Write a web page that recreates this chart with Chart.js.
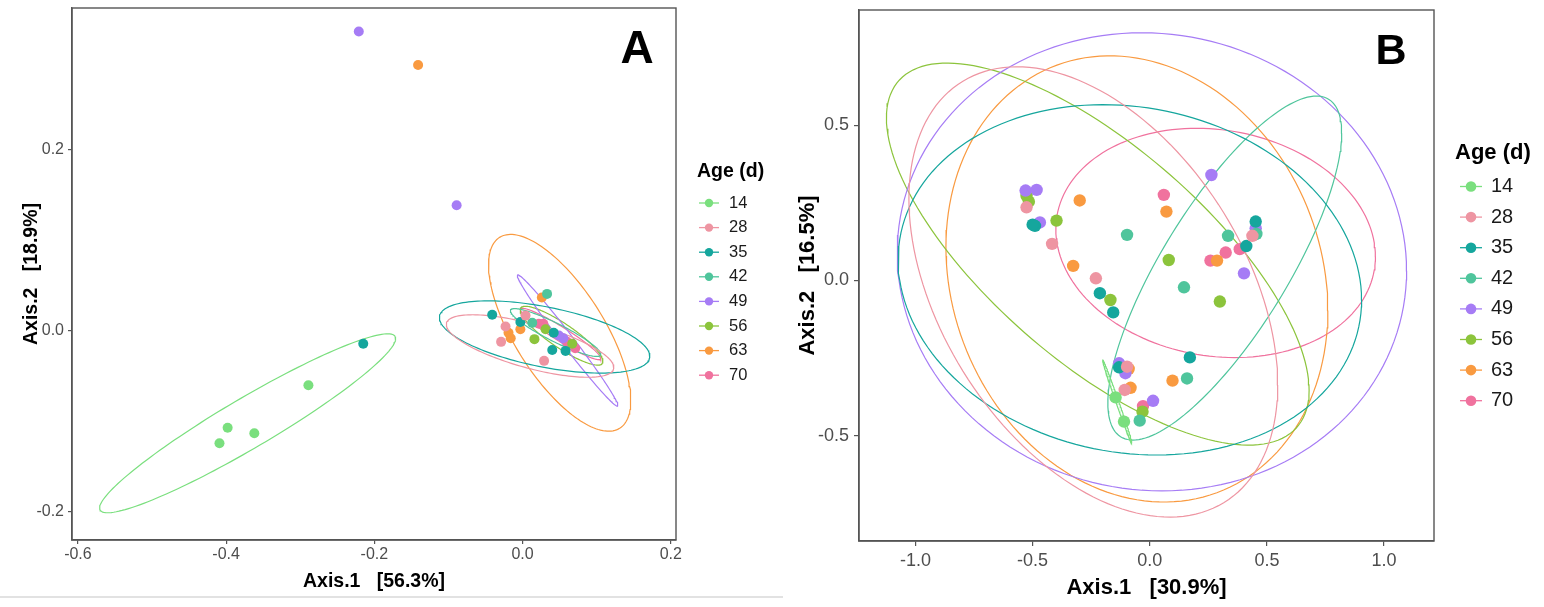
<!DOCTYPE html>
<html><head><meta charset="utf-8">
<script src="https://cdn.jsdelivr.net/npm/chart.js@4.4.0/dist/chart.umd.min.js"></script>
<style>
html,body{margin:0;padding:0;background:#fff;width:1544px;height:607px;overflow:hidden}
#wa{position:absolute;left:0;top:0;width:790px;height:607px}
#wb{position:absolute;left:780px;top:0;width:764px;height:607px}
#band{position:absolute;left:0;top:596px;width:783px;height:2px;background:#e2e2e2}
</style></head><body>
<div id="band"></div>
<div id="wa"><canvas id="ca" width="790" height="607"></canvas></div>
<div id="wb"><canvas id="cb" width="764" height="607"></canvas></div>
<script>
// ---- categories & colours ----
const ages = ['14','28','35','42','49','56','63','70'];
const ageColors = ['#7ADF7E','#EE95A2','#15A69D','#4FC59C','#A67CF5','#8CC43C','#F99A40','#F0729E'];

// ---- tick labels ----
const xTicksA = [-0.6,-0.4,-0.2,0.0,0.2];
const yTicksA = [-0.2,0.0,0.2];
const xTicksB = [-1.0,-0.5,0.0,0.5,1.0];
const yTicksB = [-0.5,0.0,0.5];

// ---- Panel A: PCoA points per age (Axis.1, Axis.2) ----
const ptsA14 = [[-0.289,-0.060],[-0.398,-0.107],[-0.362,-0.113],[-0.409,-0.124]];
const ptsA28 = [[-0.023,0.005],[-0.029,-0.012],[0.029,-0.033],[0.004,0.017]];
const ptsA35 = [[-0.215,-0.014],[-0.041,0.018],[-0.003,0.010],[0.042,-0.002],[0.040,-0.021],[0.058,-0.022]];
const ptsA42 = [[0.033,0.041],[0.013,0.009]];
const ptsA49 = [[-0.221,0.331],[-0.089,0.139],[0.055,-0.008],[0.049,-0.005]];
const ptsA56 = [[0.016,-0.009],[0.031,0.002],[0.067,-0.014]];
const ptsA63 = [[-0.141,0.294],[0.026,0.037],[-0.003,0.002],[-0.019,-0.002],[-0.016,-0.008]];
const ptsA70 = [[0.022,0.008],[0.028,0.008],[0.071,-0.019],[0.060,-0.012]];

// ---- Panel A: ellipse read-offs [cx, cy, ux, uy, vx, vy] ----
const ellA14 = [-0.371,-0.102, 0.199,0.096, 0.0171,-0.0238];
const ellA28 = [0.0101,-0.0166, 0.1127,-0.0254, -0.0079,-0.0234];
const ellA35 = [0.0297,-0.0066, 0.1417,-0.0232, -0.0079,-0.0325];
const ellA42 = [0.0445,-0.0017, 0.0607,-0.0249, -0.0054,-0.0089];
const ellA49 = [0.0607,-0.0105, 0.0675,-0.0724, 0.0064,0.0040];
const ellA56 = [0.0526,-0.0052, 0.0551,-0.0306, -0.0091,-0.0110];
const ellA63 = [0.050,-0.002, 0.081,-0.1055, 0.0514,0.0264];
const ellA70 = [0.0513,-0.0033, 0.054,-0.0276, -0.0047,-0.0066];

// ---- Panel B: PCoA points per age ----
const ptsB14 = [[-0.146,-0.377],[-0.110,-0.455]];
const ptsB28 = [[-0.526,0.236],[-0.417,0.118],[-0.230,0.007],[0.438,0.144],[-0.097,-0.278],[-0.107,-0.353]];
const ptsB35 = [[-0.490,0.176],[-0.500,0.180],[-0.213,-0.041],[-0.156,-0.103],[0.452,0.190],[0.412,0.111],[0.171,-0.248],[-0.131,-0.280]];
const ptsB42 = [[-0.097,0.147],[0.334,0.144],[0.455,0.150],[0.146,-0.022],[0.159,-0.316],[-0.043,-0.452]];
const ptsB49 = [[0.263,0.340],[-0.530,0.290],[-0.483,0.292],[-0.469,0.187],[0.452,0.168],[0.402,0.023],[-0.131,-0.267],[-0.104,-0.299],[0.014,-0.388]];
const ptsB56 = [[-0.526,0.273],[-0.516,0.254],[-0.398,0.193],[-0.168,-0.063],[0.081,0.066],[0.299,-0.068],[-0.031,-0.423]];
const ptsB63 = [[-0.299,0.258],[0.071,0.222],[-0.327,0.047],[0.287,0.064],[0.097,-0.323],[-0.082,-0.346],[-0.090,-0.285]];
const ptsB70 = [[0.060,0.276],[0.384,0.101],[0.324,0.090],[0.259,0.064],[-0.029,-0.405]];

// ---- Panel B: ellipse read-offs [cx, cy, ux, uy, vx, vy] ----
const ellB14 = [-0.139,-0.390, 0.062,-0.134, 0.006,0.0015];
const ellB28 = [-0.241,-0.037, 0.787,-0.300, 0.0,0.661];
const ellB35 = [-0.085,0.002, 0.989,-0.065, 0.0,0.561];
const ellB42 = [0.320,0.040, 0.499,0.435, 0.0,0.344];
const ellB49 = [0.009,0.060, 1.087,-0.029, 0.0,0.738];
const ellB56 = [-0.222,0.085, 0.902,-0.439, 0.0,0.432];
const ellB63 = [-0.055,0.005, 0.815,-0.102, 0.0,0.712];
const ellB70 = [0.281,0.121, 0.682,-0.044, 0.0,0.367];

const ptsA = [ptsA14,ptsA28,ptsA35,ptsA42,ptsA49,ptsA56,ptsA63,ptsA70];
const ellA = [ellA14,ellA28,ellA35,ellA42,ellA49,ellA56,ellA63,ellA70];
const ptsB = [ptsB14,ptsB28,ptsB35,ptsB42,ptsB49,ptsB56,ptsB63,ptsB70];
const ellB = [ellB14,ellB28,ellB35,ellB42,ellB49,ellB56,ellB63,ellB70];

function ellipsePath(e){
  const [cx,cy,ux,uy,vx,vy] = e; const out=[];
  for(let i=0;i<=160;i++){const t=i/160*2*Math.PI;
    out.push({x:cx+ux*Math.cos(t)+vx*Math.sin(t), y:cy+uy*Math.cos(t)+vy*Math.sin(t)});}
  return out;
}
function buildDatasets(pts, ells, r){
  const ds=[];
  ages.forEach((a,i)=>{
    ds.push({label:a+' ellipse', data:ellipsePath(ells[i]), showLine:true, pointRadius:0, borderColor:ageColors[i], borderWidth:1.2, fill:false, tension:0, order:2});
  });
  ages.forEach((a,i)=>{
    ds.push({label:a, data:pts[i].map(p=>({x:p[0],y:p[1]})), showLine:false, pointRadius:r, pointHoverRadius:r, backgroundColor:ageColors[i], pointBackgroundColor:ageColors[i], pointBorderWidth:0, borderWidth:0, order:1});
  });
  return ds;
}

const ggPlugin = {
  id:'gg',
  afterDraw(chart, args, o){
    const ctx=chart.ctx, ca=chart.chartArea;
    ctx.save();
    ctx.strokeStyle='#555'; ctx.lineWidth=1.4;
    ctx.strokeRect(ca.left, ca.top, ca.right-ca.left, ca.bottom-ca.top);
    ctx.fillStyle='#000'; ctx.font=o.letterFont; ctx.textAlign='center'; ctx.textBaseline='middle';
    ctx.fillText(o.letter, ca.right+o.letterDx, ca.top+o.letterDy);
    const x0 = ca.right + o.dx, yc=(ca.top+ca.bottom)/2;
    ctx.textAlign='left';
    ctx.font=o.titleFont; ctx.fillStyle='#000';
    ctx.fillText(o.title, x0, yc+o.titleDy);
    ages.forEach((lab,i)=>{
      const y = yc + o.firstDy + i*o.step;
      ctx.strokeStyle=ageColors[i]; ctx.lineWidth=1.3;
      ctx.beginPath(); ctx.moveTo(x0+o.k0,y); ctx.lineTo(x0+o.k1,y); ctx.stroke();
      ctx.fillStyle=ageColors[i]; ctx.beginPath(); ctx.arc(x0+(o.k0+o.k1)/2,y,o.r,0,2*Math.PI); ctx.fill();
      ctx.fillStyle='#1a1a1a'; ctx.font=o.labelFont; ctx.fillText(lab, x0+o.tx, y);
    });
    ctx.restore();
  }
};

function makeChart(id, p){
  return new Chart(document.getElementById(id), {
    type:'scatter',
    data:{datasets:buildDatasets(p.pts,p.ells,p.r)},
    options:{
      responsive:false, animation:false, devicePixelRatio:1,
      layout:{padding:p.padding},
      plugins:{legend:{display:false}, tooltip:{enabled:false}, gg:p.gg},
      scales:{
        x:{type:'linear', min:p.xmin, max:p.xmax,
          afterBuildTicks:s=>{s.ticks=p.xt.map(v=>({value:v}));},
          afterFit:s=>{s.height=p.xh; s.paddingLeft=0; s.paddingRight=0;},
          ticks:{callback:v=>Number(v).toFixed(1), font:{family:p.tickFamily,size:p.tickSize}, color:'#4d4d4d', padding:p.xtp, maxRotation:0, autoSkip:false},
          grid:{drawOnChartArea:false, tickLength:p.tl, color:'#555', lineWidth:1.2},
          border:{display:true, color:'#555', width:1.4},
          title:{display:true, text:p.xtitle, color:'#000', font:{family:'Liberation Sans, Arial, sans-serif', size:p.titleSize, weight:'bold'}, padding:{top:0,bottom:p.xtb}}
        },
        y:{type:'linear', min:p.ymin, max:p.ymax,
          afterBuildTicks:s=>{s.ticks=p.yt.map(v=>({value:v}));},
          afterFit:s=>{s.width=p.yw; s.paddingTop=0; s.paddingBottom=0;},
          ticks:{callback:v=>Number(v).toFixed(1), font:{family:p.tickFamily,size:p.tickSize}, color:'#4d4d4d', padding:p.ytp, autoSkip:false},
          grid:{drawOnChartArea:false, tickLength:p.tl, color:'#555', lineWidth:1.2},
          border:{display:true, color:'#555', width:1.4},
          title:{display:true, text:p.ytitle, color:'#000', font:{family:'Liberation Sans, Arial, sans-serif', size:p.titleSize, weight:'bold'}, padding:{top:p.ytt,bottom:0}}
        }
      }
    },
    plugins:[ggPlugin]
  });
}

makeChart('ca', {
  pts:ptsA, ells:ellA, r:5,
  padding:{left:0,top:8,right:114,bottom:0},
  xmin:-0.608, xmax:0.207, ymin:-0.231, ymax:0.357,
  xt:xTicksA, yt:yTicksA, xh:67, yw:72, tl:4, xtp:1, ytp:4,
  tickFamily:'Liberation Sans, Arial, sans-serif', tickSize:16, titleSize:19.5,
  xtitle:'Axis.1   [56.3%]', ytitle:'Axis.2   [18.9%]', xtb:14, ytt:20,
  gg:{letter:'A', letterFont:'bold 46px "Liberation Sans", Arial, sans-serif', letterDx:-39, letterDy:42,
      title:'Age (d)', titleFont:'bold 19.5px "Liberation Sans", Arial, sans-serif', labelFont:'16.5px "Liberation Sans", Arial, sans-serif',
      dx:21, titleDy:-102, firstDy:-71, step:24.6, k0:2, k1:22, r:4.2, tx:32}
});

makeChart('cb', {
  pts:ptsB, ells:ellB, r:6.2,
  padding:{left:0,top:10,right:110,bottom:0},
  xmin:-1.241, xmax:1.213, ymin:-0.840, ymax:0.872,
  xt:xTicksB, yt:yTicksB, xh:66, yw:79, tl:5, xtp:4, ytp:5,
  tickFamily:'Liberation Sans, Arial, sans-serif', tickSize:18, titleSize:22,
  xtitle:'Axis.1   [30.9%]', ytitle:'Axis.2   [16.5%]', xtb:6, ytt:15,
  gg:{letter:'B', letterFont:'bold 43px "Liberation Sans", Arial, sans-serif', letterDx:-43, letterDy:42,
      title:'Age (d)', titleFont:'bold 22px "Liberation Sans", Arial, sans-serif', labelFont:'20px "Liberation Sans", Arial, sans-serif',
      dx:21, titleDy:-123, firstDy:-89, step:30.6, k0:5, k1:27, r:5.3, tx:36}
});
</script>
</body></html>
